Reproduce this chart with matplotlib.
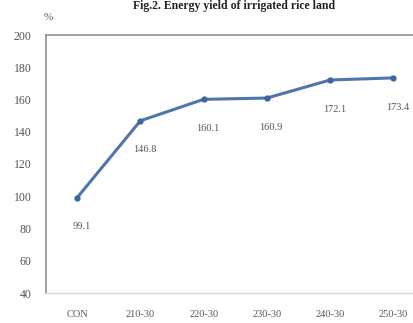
import matplotlib
matplotlib.use("Agg")
import matplotlib.pyplot as plt

categories = ["CON", "210-30", "220-30", "230-30", "240-30", "250-30"]
energy_yield = [99.1, 146.8, 160.1, 160.9, 172.1, 173.4]
value_labels = ["99.1", "146.8", "160.1", "160.9", "172.1", "173.4"]
y_ticks = [40, 60, 80, 100, 120, 140, 160, 180, 200]

W, H = 413, 323
fig = plt.figure(figsize=(W / 100, H / 100), dpi=100)
ax = fig.add_axes([45.5 / W, 1 - 293 / H, (425 - 45.5) / W, (293 - 35) / H])

serif = ["Liberation Serif", "DejaVu Serif"]
x = list(range(len(categories)))
ax.plot(x, energy_yield, color="#4f75ad", lw=2.2, marker="o", ms=3.5,
        markerfacecolor="#3f64a0", markeredgecolor="#3f64a0", zorder=3)

for xi, yi, lab in zip(x, energy_yield, value_labels):
    ax.annotate(lab, (xi, yi), xytext=(3, -21), textcoords="offset points",
                ha="center", va="center", fontsize=7.5, color="#555555",
                family=serif)

ax.set_xlim(-0.5, len(categories) - 0.5)
ax.set_ylim(40, 200)
ax.set_yticks(y_ticks)
ax.set_xticks(x)
ax.set_xticklabels(categories, family=serif, fontsize=7.5, color="#555555")
ax.set_yticklabels([str(v) for v in y_ticks], family=serif, fontsize=8.5,
                   color="#555555")
ax.tick_params(length=0, pad=10)
ax.tick_params(axis="x", pad=12)

for side in ["top", "left"]:
    ax.spines[side].set_color("#9a9a9a")
    ax.spines[side].set_linewidth(1.3)
ax.spines["bottom"].set_color("#d8d8d8")
ax.spines["bottom"].set_linewidth(1.0)
ax.spines["right"].set_visible(False)

fig.text(48 / W, 1 - 17 / H, "%", family=serif, fontsize=8, color="#555555",
         ha="center", va="center")
fig.text(234 / W, 1 - 9 / H, "Fig.2. Energy yield of irrigated rice land",
         family=serif, fontsize=8.5, fontweight="bold", color="#222222",
         ha="center", va="baseline")

fig.savefig("out.png", dpi=100)
